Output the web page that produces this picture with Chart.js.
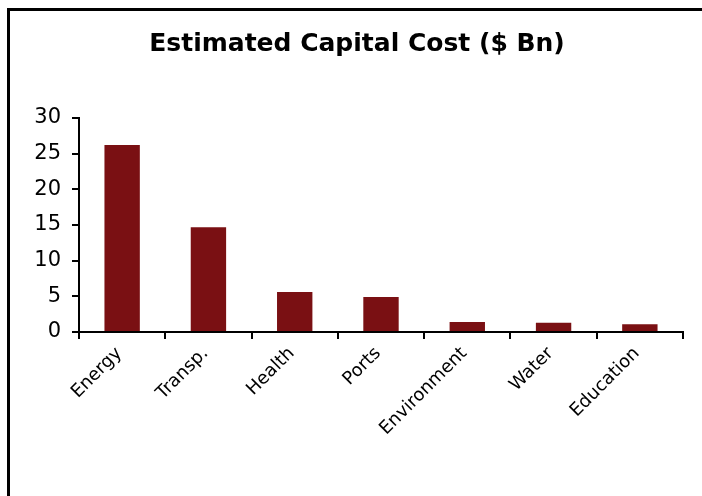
<!DOCTYPE html>
<html>
<head>
<meta charset="utf-8">
<script src="https://cdn.jsdelivr.net/npm/chart.js@4/dist/chart.umd.min.js"></script>
<style>
  html, body { margin: 0; padding: 0; background: #fff; }
  #wrap { width: 702px; height: 496px; }
</style>
</head>
<body>
<div id="wrap"><canvas id="cost-chart" width="702" height="496"></canvas></div>
<script>
// 分野と推定コスト
const sectors = ['Energy', 'Transp.', 'Health', 'Ports', 'Environment', 'Water', 'Education'];
const costs = [26.2, 14.7, 5.6, 4.9, 1.4, 1.3, 1.1];
const yTicks = [0, 5, 10, 15, 20, 25, 30];
const chartTitle = 'Estimated Capital Cost ($ Bn)';

// 上と左の枠線、タイトル
const framePlugin = {
    id: 'frame',
    beforeDraw(chart) {
        const c = chart.ctx;
        c.save();
        c.fillStyle = '#fff';
        c.fillRect(0, 0, chart.width, chart.height);
        c.strokeStyle = '#000';
        c.lineWidth = 3;
        c.beginPath();
        c.moveTo(8.5, chart.height);
        c.lineTo(8.5, 9.5);
        c.lineTo(chart.width, 9.5);
        c.stroke();
        c.fillStyle = '#000';
        c.font = 'bold 25px "DejaVu Sans"';
        c.textAlign = 'center';
        c.textBaseline = 'alphabetic';
        c.fillText(chartTitle, 357, 51);
        c.restore();
    }
};

const ctx = document.getElementById('cost-chart').getContext('2d');
new Chart(ctx, {
    type: 'bar',
    data: {
        labels: sectors,
        datasets: [{
            data: costs,
            backgroundColor: '#7a1013',
            barPercentage: 0.41,
            categoryPercentage: 1
        }]
    },
    plugins: [framePlugin],
    options: {
        responsive: false,
        animation: false,
        layout: { padding: { left: 0, right: 19, top: 118, bottom: 0 } },
        scales: {
            y: {
                min: 0,
                max: 30,
                afterBuildTicks: s => { s.ticks = yTicks.map(v => ({ value: v })); },
                afterFit: s => { s.width = 79; },
                border: { display: true, color: '#000', width: 2 },
                grid: { drawOnChartArea: false, drawTicks: true, tickLength: 7, color: '#000', lineWidth: 2 },
                ticks: {
                    color: '#000',
                    padding: 11,
                    font: { family: 'DejaVu Sans', size: 21 }
                }
            },
            x: {
                afterFit: s => { s.height = 164; },
                border: { display: true, color: '#000', width: 2 },
                grid: { offset: true, drawOnChartArea: false, drawTicks: true, tickLength: 7, color: '#000', lineWidth: 2 },
                ticks: {
                    color: '#000',
                    minRotation: 45,
                    maxRotation: 45,
                    padding: 4,
                    labelOffset: -3,
                    font: { family: 'DejaVu Sans', size: 18 }
                }
            }
        },
        plugins: {
            legend: { display: false },
            tooltip: { enabled: false },
            title: { display: false }
        }
    }
});
</script>
</body>
</html>
